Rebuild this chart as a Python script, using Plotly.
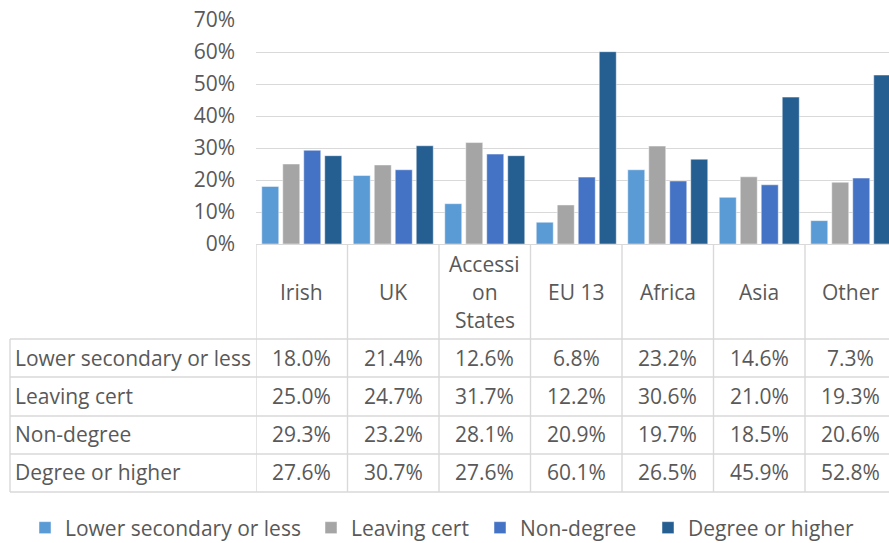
import plotly.graph_objects as go

categories = ["Irish", "UK", "Accession States", "EU 13", "Africa", "Asia", "Other"]
header_lines = [["Irish"], ["UK"], ["Accessi", "on", "States"], ["EU 13"], ["Africa"], ["Asia"], ["Other"]]
series_names = ["Lower secondary or less", "Leaving cert", "Non-degree", "Degree or higher"]
lower_secondary = [18.0, 21.4, 12.6, 6.8, 23.2, 14.6, 7.3]
leaving_cert = [25.0, 24.7, 31.7, 12.2, 30.6, 21.0, 19.3]
non_degree = [29.3, 23.2, 28.1, 20.9, 19.7, 18.5, 20.6]
degree_or_higher = [27.6, 30.7, 27.6, 60.1, 26.5, 45.9, 52.8]
series_values = [lower_secondary, leaving_cert, non_degree, degree_or_higher]
colors = ["#5B9BD5", "#A5A5A5", "#4472C4", "#255E91"]
y_ticks = [0, 10, 20, 30, 40, 50, 60, 70]

W, H = 889, 543
ML, MR, MT, MB = 256, 0, 20, 299
PW, PH = W - ML - MR, H - MT - MB
FONT = "Open Sans"
FS = 21
TXT = "#595959"
GRID = "#d9d9d9"
legend_text_x = [66, 352, 521, 689]


def px_x(px):
    return (px - ML) / PW


def px_y(py):
    return (H - MB - py) / PH


legend_ids = ["legend", "legend2", "legend3", "legend4"]
x_idx = list(range(len(categories)))
fig = go.Figure()
for name, vals, col, lid in zip(series_names, series_values, colors, legend_ids):
    fig.add_trace(go.Bar(
        x=x_idx, y=vals, name=name, legend=lid,
        marker=dict(color=col, line=dict(color="rgba(255,255,255,0.6)", width=0.8)),
        hoverinfo="skip",
    ))

shapes = []
annotations = []
line_style = dict(color=GRID, width=1.4)

row_lines = [339, 377, 416, 454, 492]
for ry in row_lines:
    shapes.append(dict(type="line", xref="paper", yref="paper",
                       x0=px_x(10), x1=1, y0=px_y(ry), y1=px_y(ry), line=line_style, layer="above"))
shapes.append(dict(type="line", xref="paper", yref="paper",
                   x0=px_x(10), x1=px_x(10), y0=px_y(339), y1=px_y(492), line=line_style))
for i in range(len(categories)):
    shapes.append(dict(type="line", xref="x", yref="paper",
                       x0=i - 0.5, x1=i - 0.5, y0=0, y1=px_y(492), line=line_style))

for i, lines in enumerate(header_lines):
    n = len(lines)
    for k, t in enumerate(lines):
        cy = 292 + (k - (n - 1) / 2) * 28
        annotations.append(dict(x=i, y=px_y(cy), xref="x", yref="paper", text=t,
                                showarrow=False, xanchor="center", yanchor="middle",
                                font=dict(family=FONT, size=FS, color=TXT)))

row_centers = [358, 396, 434, 472]
for r, (name, vals) in enumerate(zip(series_names, series_values)):
    annotations.append(dict(x=px_x(13), y=px_y(row_centers[r]), xref="paper", yref="paper",
                            text=name, showarrow=False, xanchor="left", yanchor="middle",
                            font=dict(family=FONT, size=FS, color=TXT)))
    for i, v in enumerate(vals):
        annotations.append(dict(x=i, y=px_y(row_centers[r]), xref="x", yref="paper",
                                text=f"{v:.1f}%", showarrow=False, xanchor="center", yanchor="middle",
                                font=dict(family=FONT, size=FS, color=TXT)))

legend_layout = {}
for lid, tx in zip(legend_ids, legend_text_x):
    legend_layout[lid] = dict(orientation="h", xref="container", yref="container",
                              x=(tx - 41) / W, y=1 - 528 / H, xanchor="left", yanchor="middle",
                              font=dict(family=FONT, size=FS, color=TXT), bgcolor="rgba(0,0,0,0)")

fig.update_layout(
    width=W, height=H,
    margin=dict(l=ML, r=MR, t=MT, b=MB, pad=0),
    paper_bgcolor="white", plot_bgcolor="white",
    barmode="group", bargap=0.082, bargroupgap=0.19,
    font=dict(family=FONT, size=FS, color=TXT),
    shapes=shapes, annotations=annotations,
    showlegend=True,
    **legend_layout,
)
fig.update_xaxes(range=[-0.5, -0.5 + PW / 91.5], showticklabels=False, showgrid=False,
                 zeroline=False, showline=True, linecolor=GRID, linewidth=1.4, ticks="",
                 fixedrange=True)
fig.update_yaxes(range=[0, 70], tickvals=y_ticks, ticktext=[f"{t}%" for t in y_ticks],
                 showgrid=True, gridcolor=GRID, gridwidth=1.4, zeroline=False, showline=False,
                 ticks="", ticklabelstandoff=20, tickfont=dict(family=FONT, size=FS, color=TXT),
                 fixedrange=True)

fig.write_html("out.html", config={"displayModeBar": False},
               post_script="document.body.style.margin='0px';document.body.style.overflow='hidden';")
